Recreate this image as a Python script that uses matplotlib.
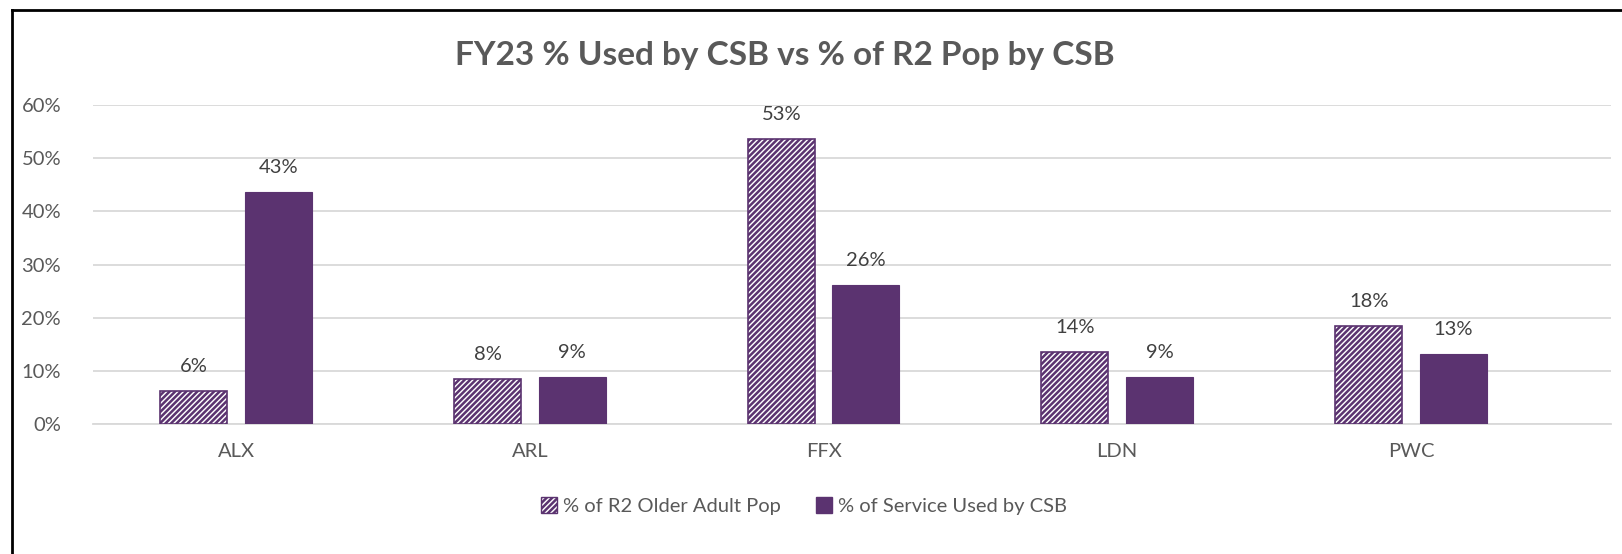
import matplotlib
matplotlib.use("Agg")
import matplotlib.pyplot as plt
from matplotlib.lines import Line2D
from matplotlib.patches import Patch
import numpy as np

categories = ["ALX", "ARL", "FFX", "LDN", "PWC"]
pop_share = [0.062, 0.085, 0.536, 0.135, 0.184]     # % of R2 Older Adult Pop
used_share = [0.436, 0.088, 0.261, 0.088, 0.132]    # % of Service Used by CSB
pop_labels = ["6%", "8%", "53%", "14%", "18%"]
used_labels = ["43%", "9%", "26%", "9%", "13%"]
yticks = [0, 0.1, 0.2, 0.3, 0.4, 0.5, 0.6]
ytick_labels = ["0%", "10%", "20%", "30%", "40%", "50%", "60%"]
series_names = ["% of R2 Older Adult Pop", "% of Service Used by CSB"]

PURPLE = "#5B3370"
TEXT = "#595959"
GRID = "#D9D9D9"
FONT = "Lato"

plt.rcParams["font.family"] = [FONT, "DejaVu Sans"]
plt.rcParams["hatch.linewidth"] = 1.8
plt.rcParams["hatch.color"] = PURPLE

W, H = 1622, 554
fig = plt.figure(figsize=(W / 100, H / 100), dpi=100)

ax_left, ax_right = 93, 1611
y0_px, y60_px = 424, 105
ax = fig.add_axes([ax_left / W, 1 - y0_px / H, (ax_right - ax_left) / W, (y0_px - y60_px) / H])

x = np.arange(len(categories))
bw = 0.228
off = 0.144
HATCH = "//////"
ax.bar(x - off, pop_share, bw, facecolor="white", edgecolor=PURPLE, hatch=HATCH, linewidth=1.2, zorder=3)
ax.bar(x + off, used_share, bw, facecolor=PURPLE, edgecolor=PURPLE, linewidth=0.8, zorder=3)

LFS = 14.5
for xi, v, lab in zip(x, pop_share, pop_labels):
    ax.text(xi - off, v + 0.03, lab, ha="center", va="bottom", fontsize=LFS, color="#404040")
for xi, v, lab in zip(x, used_share, used_labels):
    ax.text(xi + off, v + 0.03, lab, ha="center", va="bottom", fontsize=LFS, color="#404040")

ax.set_xlim(-0.487, 4.681)
ax.set_ylim(0, 0.6)
ax.set_yticks(yticks)
ax.set_yticklabels(ytick_labels, fontsize=LFS, color=TEXT)
ax.set_xticks(x)
ax.set_xticklabels(categories, fontsize=LFS, color=TEXT)
ax.tick_params(axis="both", length=0)
ax.tick_params(axis="y", pad=23)
ax.tick_params(axis="x", pad=14)
ax.grid(axis="y", color=GRID, linewidth=1.3, zorder=0)
ax.set_axisbelow(True)
for s in ["top", "right", "left"]:
    ax.spines[s].set_visible(False)
ax.spines["bottom"].set_color(GRID)
ax.spines["bottom"].set_linewidth(1.3)

fig.text(785 / W, 1 - 55 / H, "FY23 % Used by CSB vs % of R2 Pop by CSB", ha="center", va="center",
         fontsize=24, fontweight="bold", color=TEXT)

handles = [Patch(facecolor="white", edgecolor=PURPLE, hatch=HATCH, linewidth=1.0),
           Patch(facecolor=PURPLE, edgecolor=PURPLE)]
fig.legend(handles, series_names, loc="center", bbox_to_anchor=(804 / W, 1 - 506 / H),
           ncol=2, frameon=False, fontsize=LFS, labelcolor=TEXT, handlelength=0.8, handleheight=0.8,
           handletextpad=0.3, columnspacing=1.7)

fig.add_artist(Line2D([12 / W, 12 / W], [0, 1 - 10 / H], color="black", linewidth=2, transform=fig.transFigure))
fig.add_artist(Line2D([12 / W, 1.0], [1 - 10 / H, 1 - 10 / H], color="black", linewidth=2, transform=fig.transFigure))

fig.savefig("out.png", dpi=100)
